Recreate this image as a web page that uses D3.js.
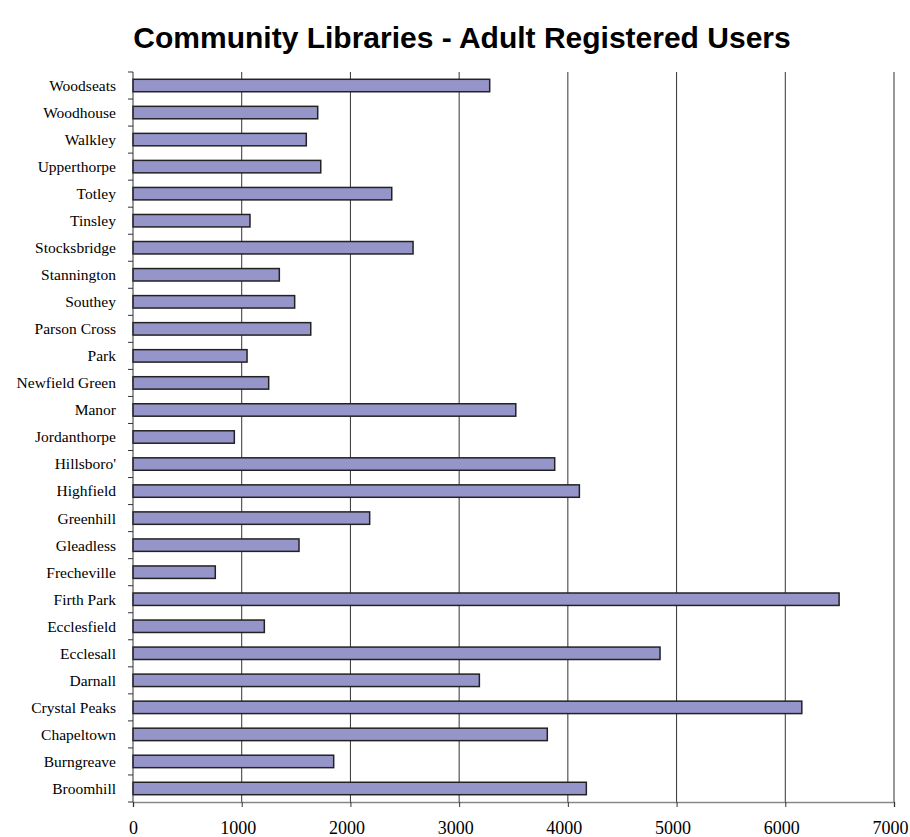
<!DOCTYPE html>
<html>
<head>
<meta charset="utf-8">
<script src="https://cdn.jsdelivr.net/npm/d3@7"></script>
<style>
  body { margin: 0; background: #fff; }
  .title { font-family: "Liberation Sans", Arial, sans-serif; font-weight: bold; }
  .cat { font-family: "Liberation Serif", "Times New Roman", serif; }
</style>
</head>
<body>
<div id="chart"></div>
<script>
const libraries = ["Broomhill", "Burngreave", "Chapeltown", "Crystal Peaks", "Darnall", "Ecclesall",
  "Ecclesfield", "Firth Park", "Frecheville", "Gleadless", "Greenhill", "Highfield", "Hillsboro'",
  "Jordanthorpe", "Manor", "Newfield Green", "Park", "Parson Cross", "Southey", "Stannington",
  "Stocksbridge", "Tinsley", "Totley", "Upperthorpe", "Walkley", "Woodhouse", "Woodseats"]
const users = [4170, 1846, 3811, 6152, 3186, 4848,
  1208, 6495, 757, 1527, 2177, 4106, 3879,
  932, 3521, 1248, 1049, 1635, 1487, 1346,
  2576, 1076, 2380, 1727, 1594, 1699, 3281]
const xTicks = [0, 1000, 2000, 3000, 4000, 5000, 6000, 7000]

const width = 910, height = 837
const plotLeft = 133, plotRight = 894, plotTop = 72, plotBottom = 802
const barColor = "#9595c9"

const svg = d3.select('#chart').append('svg').attr('width', width).attr('height', height)

svg.append('text').attr('class', 'title')
  .attr('x', 462).attr('y', 48)
  .attr('text-anchor', 'middle')
  .attr('font-size', 30)
  .attr('fill', '#000')
  .text('Community Libraries - Adult Registered Users')

const x = d3.scaleLinear().domain([0, 7000]).range([plotLeft, plotRight])
// top of chart is last library
const y = d3.scaleBand().domain(libraries.slice().reverse()).range([plotTop, plotBottom]).paddingInner(0.54).paddingOuter(0.27)

// vertical gridlines
svg.append('g').selectAll('line').data(xTicks.slice(1)).join('line')
  .attr('x1', d => x(d)).attr('x2', d => x(d))
  .attr('y1', plotTop).attr('y2', plotBottom)
  .attr('stroke', '#333').attr('stroke-width', 1)

// bars
svg.append('g').selectAll('rect').data(libraries).join('rect')
  .attr('x', x(0))
  .attr('y', d => y(d))
  .attr('width', (d, i) => x(users[i]) - x(0))
  .attr('height', y.bandwidth())
  .attr('fill', barColor)
  .attr('stroke', '#222')
  .attr('stroke-width', 1.5)

// x axis
const xAxis = svg.append('g').attr('transform', `translate(0,${plotBottom})`)
  .call(d3.axisBottom(x).tickValues(xTicks).tickSize(5).tickPadding(14).tickFormat(d3.format('d')))
xAxis.select('.domain').attr('stroke', '#888').attr('stroke-width', 1.5)
xAxis.selectAll('.tick line').attr('stroke', '#333')
xAxis.selectAll('text').attr('class', 'cat').attr('font-size', 18).attr('fill', '#000')
  .attr('dx', d => d === 0 ? 0 : -4)

// y axis: ticks at band boundaries
const step = (plotBottom - plotTop) / libraries.length
const yBounds = d3.range(libraries.length + 1).map(i => plotTop + i * step)
svg.append('line').attr('x1', plotLeft).attr('x2', plotLeft).attr('y1', plotTop).attr('y2', plotBottom)
  .attr('stroke', '#333').attr('stroke-width', 1)
svg.append('g').selectAll('line').data(yBounds).join('line')
  .attr('x1', plotLeft - 5).attr('x2', plotLeft)
  .attr('y1', d => d).attr('y2', d => d)
  .attr('stroke', '#333')

svg.append('g').selectAll('text').data(libraries).join('text')
  .attr('class', 'cat')
  .attr('x', 116)
  .attr('y', d => y(d) + y.bandwidth() / 2)
  .attr('dy', '0.35em')
  .attr('text-anchor', 'end')
  .attr('font-size', 15.5)
  .attr('fill', '#000')
  .text(d => d)
</script>
</body>
</html>
